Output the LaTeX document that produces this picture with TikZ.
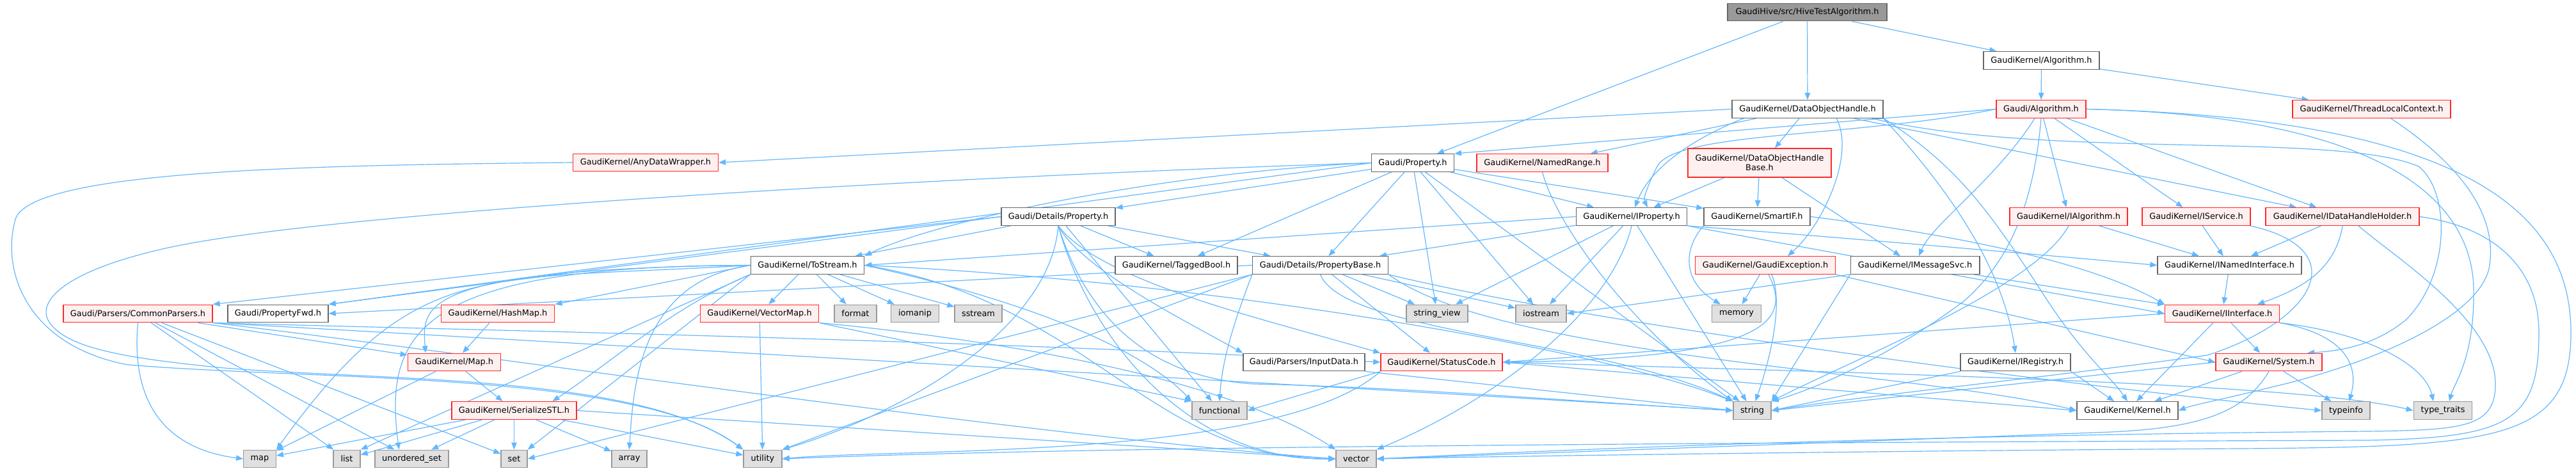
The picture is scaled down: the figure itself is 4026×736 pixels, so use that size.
\documentclass[tikz,border=0pt]{standalone}
\usepackage{fontspec}
\newfontfamily\gf{DejaVu Sans}
\usetikzlibrary{arrows.meta}
\definecolor{edgeblue}{HTML}{63B8FF}
\definecolor{greyforty}{HTML}{666666}
\definecolor{pinkbg}{HTML}{FFF0F0}
\definecolor{redb}{HTML}{FF2A2A}
\definecolor{greyfill}{HTML}{E0E0E0}
\definecolor{greyline}{HTML}{999999}
\definecolor{topfill}{HTML}{999999}
\pgfdeclarelayer{bg}
\pgfsetlayers{bg,main}
\tikzset{
 nb/.style={draw, rectangle, inner sep=0pt, minimum height=27.5pt, line width=1.4pt, font={\gf\fontsize{12.9pt}{15pt}\selectfont}, align=center},
 wn/.style={nb, fill=white, draw=greyforty},
 rn/.style={nb, fill=pinkbg, draw=redb},
 gn/.style={nb, fill=greyfill, draw=greyline},
 tn/.style={nb, fill=topfill, draw=greyforty},
 edg/.style={draw=edgeblue, line width=1.2pt, -{Triangle[length=11pt,width=8.5pt]}},
}
\begin{document}
\begin{tikzpicture}[x=1pt,y=-1pt]
\useasboundingbox (0,0) rectangle (4026,736);
% row 0-2
\node[tn, minimum width=249pt] (ht) at (2824.5,19) {GaudiHive/src/HiveTestAlgorithm.h};
\node[wn, minimum width=181pt] (ka) at (3190.5,94.5) {GaudiKernel/Algorithm.h};
\node[wn, minimum width=236pt] (doh) at (2825,170.5) {GaudiKernel/DataObjectHandle.h};
\node[rn, minimum width=140pt] (ga) at (3190,170.5) {Gaudi/Algorithm.h};
\node[rn, minimum width=247pt] (tlc) at (3706.5,170.5) {GaudiKernel/ThreadLocalContext.h};
% row 3
\node[rn, minimum width=227pt] (adw) at (1009,254) {GaudiKernel/AnyDataWrapper.h};
\node[wn, minimum width=128.5pt] (prop) at (2208,254.5) {Gaudi/Property.h};
\node[rn, minimum width=205pt] (nr) at (2410.5,254.5) {GaudiKernel/NamedRange.h};
\node[rn, minimum width=224pt, minimum height=45pt] (dohb) at (2750,254.5) {GaudiKernel/DataObjectHandle\\Base.h};
% row 4
\node[wn, minimum width=178pt] (dprop) at (1654,338.5) {Gaudi/Details/Property.h};
\node[wn, minimum width=173.5pt] (iprop) at (2550,338.5) {GaudiKernel/IProperty.h};
\node[wn, minimum width=166pt] (sif) at (2746,338.5) {GaudiKernel/SmartIF.h};
\node[rn, minimum width=184pt] (ialg) at (3233,338.5) {GaudiKernel/IAlgorithm.h};
\node[rn, minimum width=169pt] (isvc) at (3432.5,338.5) {GaudiKernel/IService.h};
\node[rn, minimum width=240pt] (idhh) at (3661,338.5) {GaudiKernel/IDataHandleHolder.h};
% row 5
\node[wn, minimum width=177.5pt] (ts) at (1262,414.5) {GaudiKernel/ToStream.h};
\node[wn, minimum width=191pt] (tb) at (1838.5,414.5) {GaudiKernel/TaggedBool.h};
\node[wn, minimum width=212pt] (pb) at (2063.5,414.5) {Gaudi/Details/PropertyBase.h};
\node[rn, minimum width=218.6pt] (gex) at (2759,414.5) {GaudiKernel/GaudiException.h};
\node[wn, minimum width=201.6pt] (ims) at (2993,414.5) {GaudiKernel/IMessageSvc.h};
\node[wn, minimum width=225pt] (ini) at (3484.5,414.5) {GaudiKernel/INamedInterface.h};
% row 6
\node[rn, minimum width=233pt] (cp) at (215.5,490) {Gaudi/Parsers/CommonParsers.h};
\node[wn, minimum width=157pt] (pfwd) at (434.5,490) {Gaudi/PropertyFwd.h};
\node[rn, minimum width=177.5pt] (hm) at (778,490) {GaudiKernel/HashMap.h};
\node[rn, minimum width=185.5pt] (vm) at (1187,490) {GaudiKernel/VectorMap.h};
\node[gn, minimum width=66pt] (fmt) at (1337,490) {format};
\node[gn, minimum width=74.5pt] (iom) at (1430,490) {iomanip};
\node[gn, minimum width=74pt] (sst) at (1529,490) {sstream};
\node[gn, minimum width=96pt] (sv) at (2246,490) {string\_view};
\node[gn, minimum width=79pt] (ios) at (2408.5,490) {iostream};
\node[gn, minimum width=76.5pt] (mem) at (2714,490) {memory};
\node[rn, minimum width=178.5pt] (ii) at (3473,490) {GaudiKernel/IInterface.h};
% row 7
\node[rn, minimum width=145.5pt] (map) at (710,566) {GaudiKernel/Map.h};
\node[wn, minimum width=190pt] (ind) at (2038,566) {Gaudi/Parsers/InputData.h};
\node[rn, minimum width=190pt] (sc) at (2253,566) {GaudiKernel/StatusCode.h};
\node[wn, minimum width=172pt] (ireg) at (3150,566) {GaudiKernel/IRegistry.h};
\node[rn, minimum width=166pt] (sys) at (3546,566) {GaudiKernel/System.h};
% row 8
\node[rn, minimum width=195pt] (ser) at (803.5,641.5) {GaudiKernel/SerializeSTL.h};
\node[gn, minimum width=86pt] (func) at (1906,641.5) {functional};
\node[gn, minimum width=59pt] (str) at (2738.5,641.5) {string};
\node[wn, minimum width=158pt] (kern) at (3325,641.5) {GaudiKernel/Kernel.h};
\node[gn, minimum width=75pt] (ti) at (3666.5,641.5) {typeinfo};
\node[gn, minimum width=91.5pt] (tt) at (3818,641.5) {type\_traits};
% row 9
\node[gn, minimum width=50.5pt] (mapstd) at (406,717) {map};
\node[gn, minimum width=42pt] (list) at (542,717) {list};
\node[gn, minimum width=115pt] (us) at (643.5,717) {unordered\_set};
\node[gn, minimum width=41pt] (set) at (803.5,717) {set};
\node[gn, minimum width=55pt] (arr) at (983.5,717) {array};
\node[gn, minimum width=60pt] (util) at (1192,717) {utility};
\node[gn, minimum width=63pt] (vec) at (2119.5,717) {vector};

\begin{pgfonlayer}{bg}
\fill[white] (0,0) rectangle (4026,736);
% top
\draw[edg] (ht) -- (prop);
\draw[edg] (ht) -- (ka);
\draw[edg] (ht) -- (doh);
\draw[edg] (ka) -- (ga);
\draw[edg] (ka) -- (tlc);
% DataObjectHandle
\draw[edg] (doh.west) -- (adw.east);
\draw[edg] ([xshift=-80pt]doh.south) -- ([xshift=75pt]nr.north);
\draw[edg] ([xshift=-13pt]doh.south) -- ([xshift=24pt]dohb.north);
\draw[edg] ([xshift=-100pt]doh.south) .. controls (2650,215) and (2580,260) .. ([xshift=5pt]iprop.north);
\draw[edg] ([xshift=45pt]doh.south) .. controls (2900,240) and (2850,350) .. ([xshift=35pt]gex.north);
\draw[edg] (doh.south east) .. controls (3050,300) and (3130,420) .. (ireg.north);
\draw[edg] (doh) -- (idhh);
\draw[edg] ([xshift=100pt]doh.south) .. controls (3200,250) and (3650,205) .. (3780,260) .. controls (3830,300) and (3830,430) .. (3760,500) .. controls (3710,540) and (3660,548) .. ([xshift=60pt]sys.north);
\draw[edg] (doh.south east) .. controls (3060,260) and (3110,330) .. (3200,470) .. controls (3260,560) and (3300,590) .. (kern.north);
% Gaudi/Algorithm
\draw[edg] (ga.west) -- (prop.north east);
\draw[edg] (ga.west) .. controls (2900,215) and (2620,205) .. (2590,260) .. controls (2575,290) and (2568,310) .. ([xshift=25pt]iprop.north);
\draw[edg] (ga) -- (ialg);
\draw[edg] (ga) -- (isvc);
\draw[edg] (ga) -- (idhh);
\draw[edg] ([xshift=-10pt]ga.south) .. controls (3120,280) and (3020,350) .. ([xshift=6pt]ims.north);
\draw[edg] (ga.south) .. controls (3180,300) and (3150,400) .. (3070,470) .. controls (2950,560) and (2830,610) .. (str.north east);
\draw[edg] (ga.east) .. controls (3700,180) and (3862,300) .. (3866,450) .. controls (3868,560) and (3835,600) .. ([xshift=10pt]tt.north);
\draw[edg] (ga.east) .. controls (3850,185) and (4018,330) .. (4018,520) .. controls (4018,690) and (3900,698) .. (3500,701) .. controls (3000,704) and (2400,712) .. (vec.east);
% ThreadLocalContext
\draw[edg] ([xshift=30pt]tlc.south) .. controls (3850,260) and (3905,340) .. (3890,420) .. controls (3870,500) and (3700,570) .. (3550,605) .. controls (3470,625) and (3430,632) .. (kern.east);
% AnyDataWrapper
\draw[edg] (adw.west) .. controls (500,258) and (60,265) .. (25,340) .. controls (0,420) and (40,540) .. (200,570) .. controls (500,595) and (1000,580) .. (util.north west);
% Gaudi/Property
\draw[edg] (prop) -- (dprop);
\draw[edg] (prop) -- (pb);
\draw[edg] (prop.west) -- (pfwd.north east);
\draw[edg] (prop) -- (iprop);
\draw[edg] (prop) -- (sif);
\draw[edg] (prop) -- (tb);
\draw[edg] (prop.west) .. controls (1800,270) and (1450,350) .. (ts.north east);
\draw[edg] (prop) -- (sv);
\draw[edg] (prop) -- (str);
\draw[edg] (prop) -- (ios);
\draw[edg] (prop.west) .. controls (1500,275) and (500,330) .. (250,390) .. controls (100,425) and (60,470) .. (75,500) .. controls (100,545) and (200,560) .. (350,575) .. controls (600,595) and (1000,585) .. (util.north west);
% NamedRange
\draw[edg] (nr.south) .. controls (2435,360) and (2560,520) .. (str.north west);
% DataObjectHandleBase
\draw[edg] (dohb) -- (iprop);
\draw[edg] (dohb) -- (sif);
\draw[edg] (dohb) -- ([xshift=-23pt]ims.north);
% Details/Property
\draw[edg] (dprop.west) -- (cp.north east);
\draw[edg] (dprop.west) -- (pfwd.north east);
\draw[edg] (dprop) -- (ts);
\draw[edg] (dprop) -- (pb);
\draw[edg] (dprop) -- (tb);
\draw[edg] (dprop.south) .. controls (1690,420) and (1850,500) .. (ind.north west);
\draw[edg] (dprop.south) .. controls (1720,440) and (1980,500) .. (sc.north west);
\draw[edg] (dprop) -- (func);
\draw[edg] (dprop.south) .. controls (1700,500) and (1800,590) .. (1960,600) .. controls (2200,605) and (2500,630) .. (str.west);
\draw[edg] (dprop.south) .. controls (1640,520) and (1400,650) .. (util.north east);
\draw[edg] (dprop.south) .. controls (1700,520) and (1850,720) .. (vec.west);
% IProperty
\draw[edg] (iprop) -- (pb);
\draw[edg] (iprop.west) -- (ts.east);
\draw[edg] (iprop) -- (sv);
\draw[edg] (iprop) -- (ios);
\draw[edg] (iprop.south) .. controls (2520,480) and (2350,620) .. (vec.north east);
\draw[edg] (iprop) -- (str);
\draw[edg] (iprop.south east) -- (ii.west);
\draw[edg] (iprop.south east) .. controls (2800,365) and (3100,390) .. (ini.west);
% SmartIF
\draw[edg] (sif.south west) .. controls (2630,390) and (2630,440) .. ([xshift=-25pt]mem.north);
\draw[edg] (sif.east) .. controls (3000,360) and (3250,400) .. (ii.north west);
% ToStream
\draw[edg] (ts.west) -- (hm.north east);
\draw[edg] (ts.west) .. controls (650,420) and (660,480) .. ([xshift=-45pt]map.north);
\draw[edg] (ts) -- (vm);
\draw[edg] (ts) -- (fmt);
\draw[edg] (ts) -- (iom);
\draw[edg] (ts) -- (sst);
\draw[edg] (ts.south west) .. controls (1050,480) and (950,570) .. ([xshift=60pt]ser.north);
\draw[edg] (ts.west) .. controls (1000,440) and (990,600) .. (arr.north);
\draw[edg] (ts.west) .. controls (750,440) and (650,400) .. (mapstd.north east);
\draw[edg] (ts.south west) -- (list.north east);
\draw[edg] (ts.south west) -- (set.north east);
\draw[edg] (ts.west) .. controls (650,415) and (600,520) .. ([xshift=-20pt]us.north);
\draw[edg] (ts.east) .. controls (1900,440) and (2500,545) .. (str.north west);
\draw[edg] (ts.east) .. controls (1700,470) and (1800,720) .. (vec.west);
\draw[edg] (ts.east) .. controls (1650,480) and (1800,560) .. (func.north west);
% HashMap, Map, VectorMap
\draw[edg] (hm) -- (map);
\draw[edg] (map) -- (ser);
\draw[edg] (map) -- (mapstd);
\draw[edg] (vm) -- (util);
\draw[edg] (vm.south east) -- (func.north west);
\draw[edg] (vm.south east) .. controls (1500,525) and (1900,580) .. (vec.north west);
% SerializeSTL
\draw[edg] (ser) -- (mapstd);
\draw[edg] (ser) -- (list);
\draw[edg] (ser) -- (us);
\draw[edg] (ser) -- (set);
\draw[edg] (ser) -- (arr);
\draw[edg] (ser) -- (util);
\draw[edg] (ser.east) -- (vec.west);
% CommonParsers
\draw[edg] (cp.south) .. controls (205,620) and (250,700) .. (mapstd.west);
\draw[edg] (cp) -- (list);
\draw[edg] (cp) -- (us);
\draw[edg] (cp) -- (set);
\draw[edg] (cp) -- (map);
\draw[edg] (cp.south east) .. controls (700,515) and (1500,530) .. (sc.west);
\draw[edg] (cp.south east) .. controls (800,530) and (2000,600) .. (str.west);
\draw[edg] (cp.south east) .. controls (800,560) and (1600,680) .. (vec.west);
% PropertyBase
\draw[edg] (pb.west) -- (pfwd.east);
\draw[edg] (pb) -- (sv);
\draw[edg] (pb) -- (ios);
\draw[edg] (pb) -- (sc);
\draw[edg] (pb.south) .. controls (2100,520) and (2500,530) .. (str.north west);
\draw[edg] (pb.south west) -- (util.north east);
\draw[edg] (pb.south west) .. controls (1930,500) and (1910,560) .. (func.north);
\draw[edg] (pb.south west) -- (set.east);
\draw[edg] (pb.south east) .. controls (2500,510) and (3300,610) .. (ti.west);
\draw[edg] (pb.south east) .. controls (2350,560) and (3000,580) .. (kern.west);
% InputData, StatusCode
\draw[edg] (ind.south east) -- (str.west);
\draw[edg] (sc.south west) -- (func.east);
\draw[edg] (sc.south west) .. controls (2000,720) and (1400,700) .. (util.east);
\draw[edg] (sc.east) -- (kern.west);
\draw[edg] (sc.east) .. controls (3000,585) and (3600,600) .. (tt.west);
% GaudiException
\draw[edg] (gex) -- (mem);
\draw[edg] ([xshift=10pt]gex.south) .. controls (2790,480) and (2760,580) .. ([xshift=5pt]str.north);
\draw[edg] ([xshift=5pt]gex.south) .. controls (2800,500) and (2770,560) .. (sc.east);
\draw[edg] (gex.south east) -- (sys.west);
% IMessageSvc
\draw[edg] (ims) -- (ii);
\draw[edg] (ims.south west) -- (ios.east);
\draw[edg] (ims.south west) -- (str.north east);
% IAlgorithm, IService, IDataHandleHolder
\draw[edg] (ialg) -- (ini);
\draw[edg] (ialg.south) .. controls (3180,450) and (2900,560) .. (str.north east);
\draw[edg] (isvc) -- (ini);
\draw[edg] (isvc.south east) .. controls (3680,390) and (3620,500) .. (3450,555) .. controls (3200,590) and (2900,620) .. (str.east);
\draw[edg] (idhh) -- (ini);
\draw[edg] (idhh.south) .. controls (3650,420) and (3600,450) .. ([xshift=55pt]ii.north);
\draw[edg] ([xshift=25pt]idhh.south) .. controls (3740,400) and (3900,500) .. (3900,600) .. controls (3900,668) and (3850,672) .. (3700,674) .. controls (3000,680) and (2500,700) .. (vec.east);
\draw[edg] (idhh.east) .. controls (3900,355) and (3968,420) .. (3968,520) .. controls (3968,660) and (3920,684) .. (3700,688) .. controls (2600,692) and (1700,698) .. (util.east);
% IInterface
\draw[edg] (ini) -- (ii);
\draw[edg] (ii) -- (kern);
\draw[edg] (ii) -- (sys);
\draw[edg] (ii.south east) .. controls (3650,520) and (3690,560) .. ([xshift=5pt]ti.north);
\draw[edg] (ii.south east) .. controls (3700,520) and (3790,570) .. ([xshift=-15pt]tt.north);
\draw[edg] (ii.west) -- (sc.east);
% System
\draw[edg] (sys) -- (kern);
\draw[edg] (sys) -- (ti);
\draw[edg] (sys.west) -- (str.east);
\draw[edg] (sys.south) .. controls (3510,640) and (3450,668) .. (3300,675) .. controls (2900,690) and (2500,705) .. (vec.east);
% IRegistry
\draw[edg] (ireg.south east) -- (kern);
\draw[edg] (ireg.south west) -- (str.east);
\end{pgfonlayer}
\end{tikzpicture}
\end{document}
